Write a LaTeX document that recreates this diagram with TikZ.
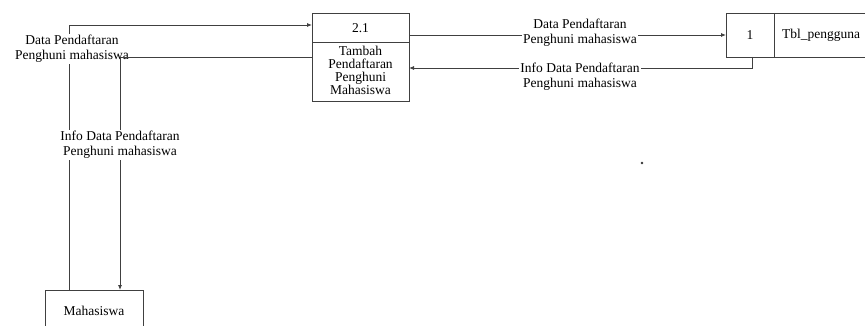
\documentclass[tikz,border=0pt]{standalone}
\usepackage{fontspec}
\setmainfont{Liberation Serif}
\usetikzlibrary{arrows.meta}
\begin{document}
\begin{tikzpicture}[x=1pt,y=-1pt,
  line/.style={draw=black!75,line width=0.8pt},
  flow/.style={line,-{Latex[length=5pt,width=4pt]}},
  lbl/.style={fill=white,inner sep=1pt,align=center,font=\fontsize{13.5}{15}\selectfont},
  boxtxt/.style={align=center,inner sep=0pt,font=\fontsize{13.5}{13}\selectfont}]
\useasboundingbox (0,0) rectangle (865,326);
% process box
\draw[line] (312,13) rectangle (409,101);
\draw[line] (312,42) -- (409,42);
\node[boxtxt] (pid) at (360.5,28) {2.1};
\node[boxtxt] (proc) at (360.5,70.5) {Tambah\\Pendaftaran\\Penghuni\\Mahasiswa};
\coordinate (pL1) at (312,25);
\coordinate (pL2) at (312,57);
\coordinate (pR1) at (409,35);
\coordinate (pR2) at (409,68);
% data store
\draw[line] (870,13) -- (726,13) -- (726,57) -- (870,57);
\draw[line] (774,13) -- (774,57);
\node[boxtxt] (sid) at (750,35) {1};
\node[boxtxt,anchor=west] (store) at (782,35) {Tbl\_pengguna};
\coordinate (sL) at (726,35);
\coordinate (sB) at (752,57);
% external entity
\draw[line] (45,335) -- (45,290) -- (143,290) -- (143,335);
\node[boxtxt] (mhs) at (94,311) {Mahasiswa};
\coordinate (mT1) at (69,290);
\coordinate (mT2) at (120,290);
% flows
\draw[flow] (mT1) |- (pL1);
\node[lbl] (l1) at (72,49) {Data Pendaftaran\\Penghuni mahasiswa};
\draw[flow] (pL2) -| (mT2);
\node[lbl] (l2) at (120,145) {Info Data Pendaftaran\\Penghuni mahasiswa};
\draw[flow] (pR1) -- (sL);
\node[lbl] (l3) at (580,33) {Data Pendaftaran\\Penghuni mahasiswa};
\draw[flow] (sB) |- (pR2);
\node[lbl] (l4) at (580,77) {Info Data Pendaftaran\\Penghuni mahasiswa};
% stray dot
\fill[black!80] (642,163) circle (1.3pt);
\end{tikzpicture}
\end{document}
